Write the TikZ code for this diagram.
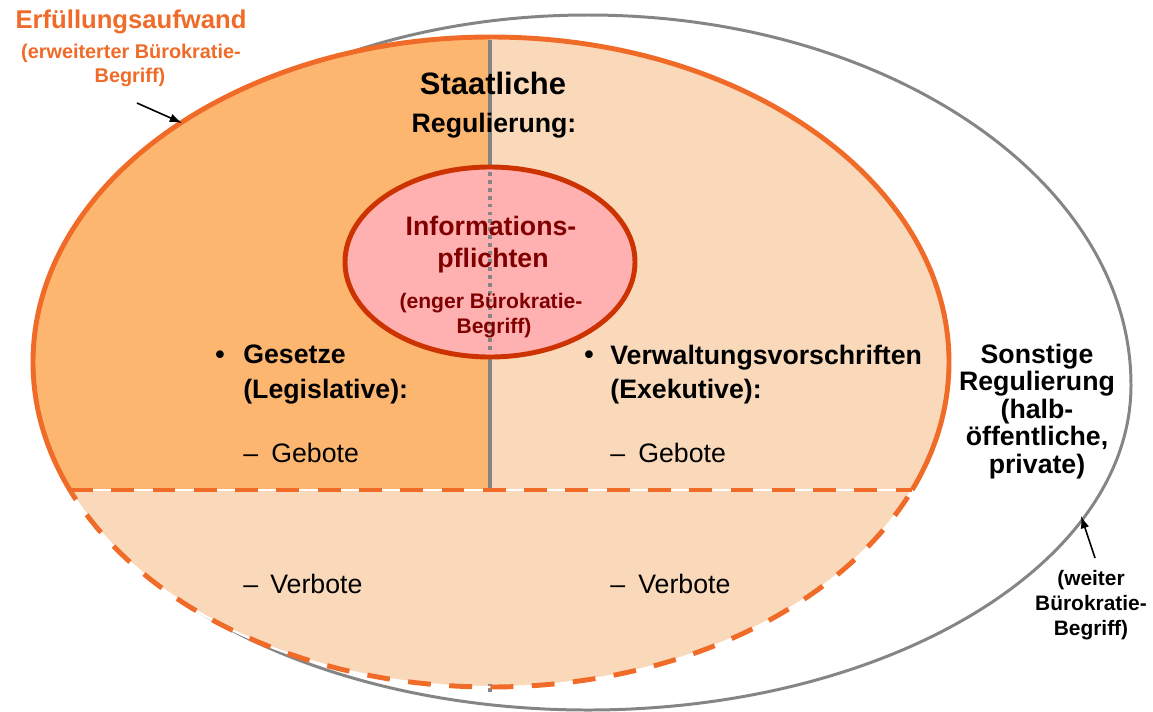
\documentclass[tikz,border=0pt]{standalone}
\usepackage{fontspec}
\setmainfont{Liberation Sans}
\usetikzlibrary{arrows.meta}

\definecolor{orangeLine}{HTML}{F06A28}
\definecolor{darkFill}{HTML}{FCB66F}
\definecolor{lightFill}{HTML}{FAD9BB}
\definecolor{pinkFill}{HTML}{FFB1B1}
\definecolor{pinkLine}{HTML}{CC3300}
\definecolor{darkRed}{HTML}{800000}
\definecolor{grayLine}{HTML}{858585}

\begin{document}
\begin{tikzpicture}[x=0.02cm, y=0.02cm]
        % Define styles
        \tikzset{
            outline/.style={draw=grayLine, line width=1.7pt},
            zone/.style={draw=orangeLine, line width=2.8pt},
            zonedash/.style={draw=orangeLine, line width=2.8pt, dash pattern=on 13pt off 10.5pt},
            gapline/.style={draw=white, line width=1.2pt},
            divider/.style={draw=grayLine, line width=2.2pt},
            dotdivider/.style={draw=grayLine, line width=2pt, dash pattern=on 2.2pt off 2.3pt},
            infobox/.style={fill=pinkFill, draw=pinkLine, line width=2.8pt},
            bigtxt/.style={font=\fontsize{17.6}{21}\selectfont\bfseries, inner sep=0pt, anchor=base},
            midtxt/.style={font=\fontsize{15.2}{18}\selectfont\bfseries, inner sep=0pt, anchor=base},
            plaintxt/.style={font=\fontsize{15.2}{18}\selectfont, inner sep=0pt, anchor=base west},
            infotxt/.style={midtxt, text=darkRed},
            infosmall/.style={font=\fontsize{12}{14}\selectfont\bfseries, text=darkRed, inner sep=0pt, anchor=base},
            notetxt/.style={font=\fontsize{11.9}{14}\selectfont\bfseries, inner sep=0pt, anchor=base},
            erftxt/.style={font=\fontsize{11.3}{14}\selectfont\bfseries, text=orangeLine, inner sep=0pt, anchor=base},
            arrow/.style={-{Latex[length=7pt,width=5pt]}, line width=0.9pt}
        }
        \useasboundingbox (0,0) rectangle (1153,-711);

        % Outer border (weiter Begriff)
        \draw[outline] (1131,-385) arc[start angle=0, end angle=180, x radius=543, y radius=370]
            arc[start angle=180, end angle=360, x radius=543, y radius=325] -- cycle;

        % Erfuellungsaufwand area
        \fill[lightFill] (491,-362) ellipse [x radius=458, y radius=325];
        \begin{scope}
            \clip (491,-362) ellipse [x radius=458, y radius=325];
            \fill[darkFill] (0,0) rectangle (490,-490);
        \end{scope}

        \coordinate (divTop) at (490,-40);
        \coordinate (divBot) at (490,-490);
        \draw[divider] (divTop) -- (divBot);
        \draw[divider] (490,-684) -- (490,-692);

        \begin{scope}
            \clip (0,0) rectangle (1153,-490);
            \draw[zone] (491,-362) ellipse [x radius=458, y radius=325];
        \end{scope}
        \begin{scope}
            \clip (0,-490) rectangle (1153,-711);
            \draw[gapline] (491,-362) ellipse [x radius=458, y radius=325];
            \draw[zonedash] (491,-362) ellipse [x radius=458, y radius=325];
        \end{scope}

        \coordinate (splitL) at (70,-490);
        \coordinate (splitR) at (912,-490);
        \draw[gapline] (splitL) -- (splitR);
        \draw[zonedash] (splitL) -- (splitR);

        % Informationspflichten
        \draw[infobox] (490,-262) ellipse [x radius=145, y radius=95];
        \coordinate (dotTop) at (490,-172);
        \coordinate (dotBot) at (490,-352);
        \draw[dotdivider] (dotTop) -- (dotBot);

        % Texts
        \node[bigtxt] (staat) at (493,-94) {Staatliche};
        \node[midtxt] (regul) at (494,-132) {Regulierung:};

        \node[infotxt] (info1) at (491,-235) {Informations-};
        \node[infotxt] (info2) at (493,-267) {pflichten};
        \node[infosmall] (info3) at (491,-308) {(enger Bürokratie-};
        \node[infosmall] (info4) at (494,-333) {Begriff)};

        \node[midtxt] (bulletL) at (220,-363) {•};
        \node[midtxt, anchor=base west] (gesetze) at (243,-363) {Gesetze};
        \node[midtxt, anchor=base west] (legis) at (243,-398) {(Legislative):};
        \node[plaintxt] (dashGL) at (243,-462) {–};
        \node[plaintxt] (gebotL) at (271,-462) {Gebote};
        \node[plaintxt] (dashVL) at (243,-593) {–};
        \node[plaintxt] (verbotL) at (270,-593) {Verbote};

        \node[midtxt] (bulletR) at (589,-363) {•};
        \node[midtxt, anchor=base west] (verwalt) at (610,-364) {Verwaltungsvorschriften};
        \node[midtxt, anchor=base west] (exek) at (610,-398) {(Exekutive):};
        \node[plaintxt] (dashGR) at (610,-462) {–};
        \node[plaintxt] (gebotR) at (638,-462) {Gebote};
        \node[plaintxt] (dashVR) at (610,-593) {–};
        \node[plaintxt] (verbotR) at (638,-593) {Verbote};

        \foreach \txt [count=\i] in {{Sonstige}, {Regulierung}, {(halb-}, {öffentliche,}, {private)}}
            \node[midtxt] (sonst\i) at (1037,{-363-27.5*(\i-1)}) {\txt};

        \foreach \txt [count=\i] in {{(weiter}, {Bürokratie-}, {Begriff)}}
            \node[notetxt] (weit\i) at (1091,{-585-25*(\i-1)}) {\txt};

        \node[font=\fontsize{14.6}{17}\selectfont\bfseries, text=orangeLine, inner sep=0pt, anchor=base] (erf) at (131,-28) {Erfüllungsaufwand};
        \node[erftxt] (erf1) at (131,-58) {(erweiterter Bürokratie-};
        \node[erftxt] (erf2) at (130,-82) {Begriff)};

        % Arrows
        \coordinate (erfStart) at (137,-103);
        \coordinate (erfTip) at (182,-123);
        \draw[arrow] (erfStart) -- (erfTip);
        \coordinate (weitStart) at (1095,-558);
        \coordinate (weitTip) at (1081,-516);
        \draw[arrow] (weitStart) -- (weitTip);
\end{tikzpicture}
\end{document}
